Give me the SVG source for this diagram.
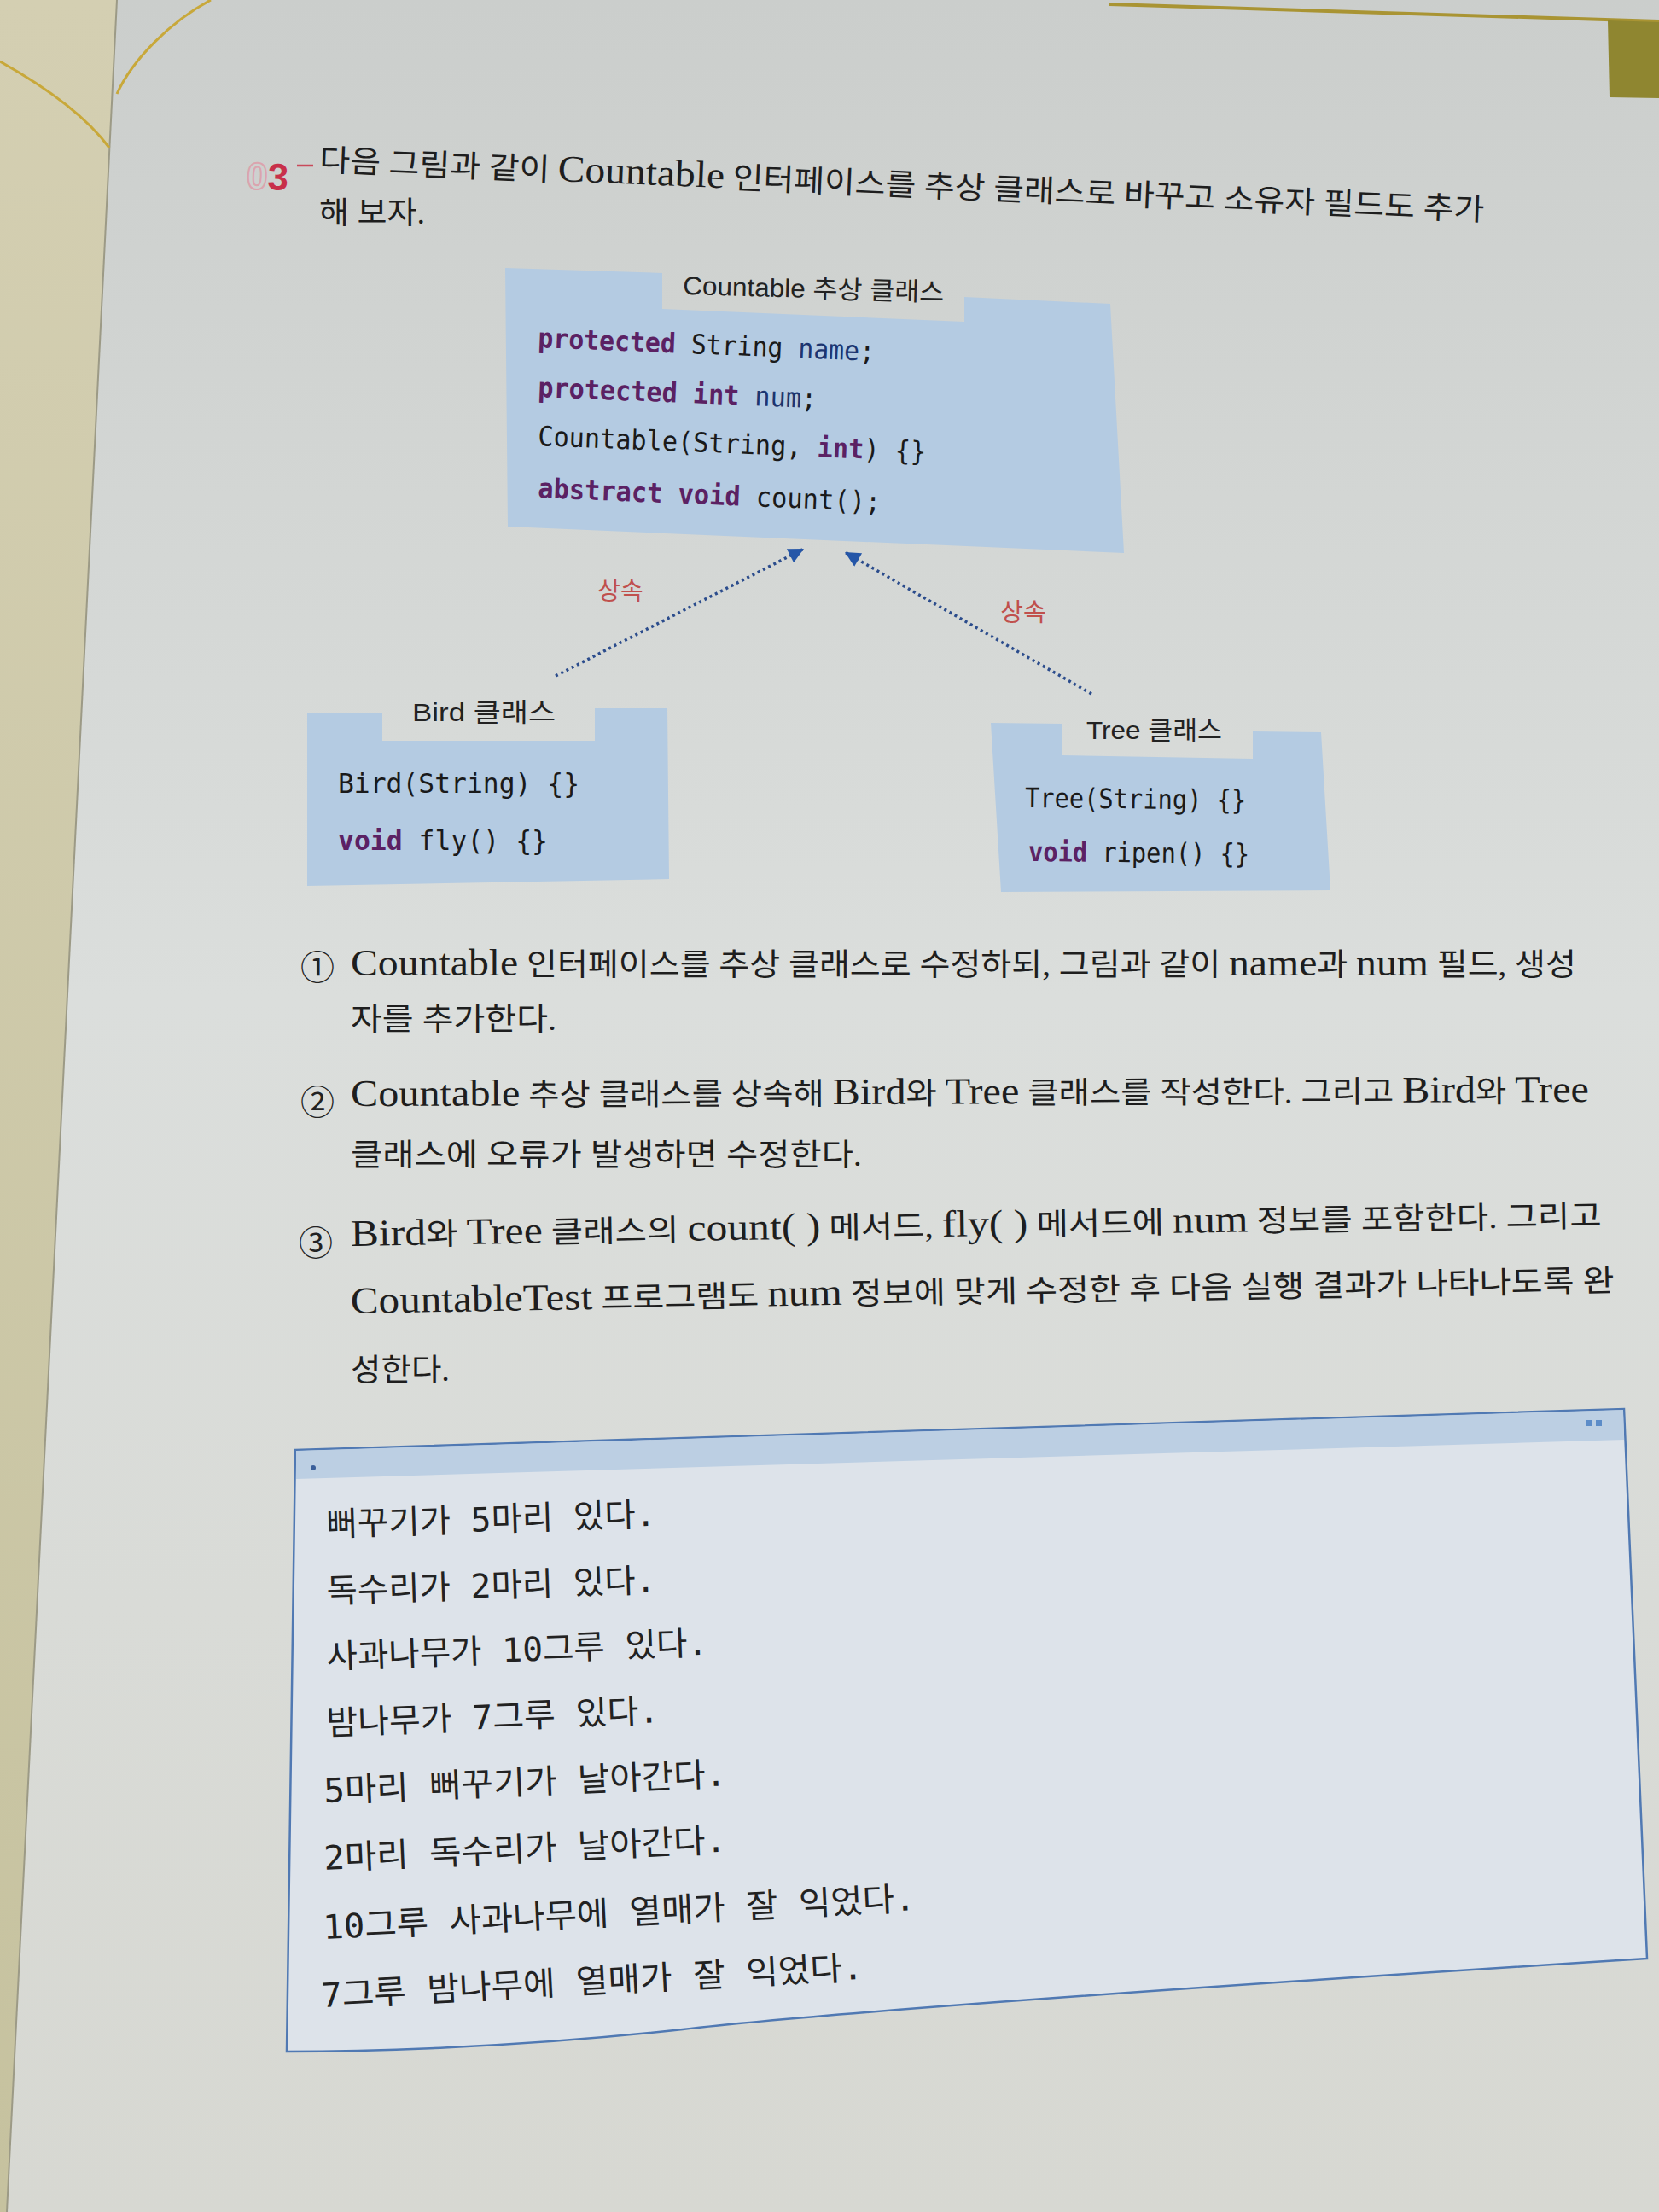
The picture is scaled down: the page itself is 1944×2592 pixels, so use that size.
<svg xmlns="http://www.w3.org/2000/svg" width="1944" height="2592" viewBox="0 0 1944 2592">
<defs>
<linearGradient id="pageG" x1="0" y1="0" x2="0" y2="1">
<stop offset="0" stop-color="#cbcecc"/>
<stop offset="0.45" stop-color="#dbdedc"/>
<stop offset="1" stop-color="#d7d8d2"/>
</linearGradient>
<linearGradient id="stripG" x1="0" y1="0" x2="0" y2="1">
<stop offset="0" stop-color="#d4cfb2"/>
<stop offset="1" stop-color="#c6c29f"/>
</linearGradient>
<marker id="arr" viewBox="0 0 10 10" refX="10" refY="5" markerWidth="22" markerHeight="18" markerUnits="userSpaceOnUse" orient="auto">
<path d="M0,0 L10,5 L0,10 z" fill="#2456a8"/>
</marker>
<style>
.box{fill:#b4cbe2}
.code{font-family:"DejaVu Sans Mono","Noto Sans CJK KR",monospace;font-size:32px;fill:#1a1a1a}
.kw{fill:#5b2163;font-weight:bold}
.id{fill:#1c3570}
.cap{font-family:"Liberation Sans","Noto Sans CJK KR",sans-serif;font-size:30px;fill:#222}
.inh{font-family:"Noto Sans CJK KR",sans-serif;font-size:29px;fill:#c0504d}
.conn{fill:none;stroke:#2b4c8c;stroke-width:3.5;stroke-dasharray:3 4}
.body{font-family:"Liberation Serif","Noto Sans CJK KR",serif;font-size:36px;fill:#1e1e1e}
.lat{font-size:44px}
.num{font-family:"Noto Sans CJK KR",sans-serif;font-size:40px;fill:#222}
.out{font-family:"DejaVu Sans Mono","Noto Sans CJK KR",monospace;font-size:39px;fill:#222}
</style>
</defs>

<g id="background">
<rect x="0" y="0" width="1944" height="2592" fill="url(#pageG)"/>
<polygon points="0,0 137,0 8,2592 0,2592" fill="url(#stripG)"/>
<line x1="137" y1="0" x2="8" y2="2592" stroke="#9c9a86" stroke-width="2"/>
<path d="M0,72 C50,100 100,135 128,173" fill="none" stroke="#c8a83a" stroke-width="3"/>
<path d="M247,0 C200,25 155,70 137,110" fill="none" stroke="#c8a83a" stroke-width="3"/>
<path d="M1300,5 L1944,25" fill="none" stroke="#a99433" stroke-width="4"/>
<polygon points="1884,24 1944,26 1944,115 1886,114" fill="#8f8630"/>
</g>

<g id="title">
<text x="313" y="222" font-family="Liberation Sans,sans-serif" font-size="44" font-weight="bold" fill="none" stroke="#dba4ae" stroke-width="2" text-anchor="end" transform="rotate(2.4 313 222)">0</text>
<text x="313" y="222" font-family="Liberation Sans,sans-serif" font-size="44" font-weight="bold" fill="#c8304a" transform="rotate(2.4 313 222)">3</text>
<line x1="348" y1="194" x2="367" y2="194" stroke="#c84a5a" stroke-width="2.5"/>
<text class="body" x="374" y="200" textLength="1366" lengthAdjust="spacingAndGlyphs" transform="rotate(2.45 374 200)">다음 그림과 같이 <tspan class="lat">Countable</tspan> 인터페이스를 추상 클래스로 바꾸고 소유자 필드도 추가</text>
<text class="body" x="374" y="262" textLength="124" lengthAdjust="spacingAndGlyphs">해 보자.</text>
</g>

<g id="countable">
<polygon class="box" points="592,314 776,320 776,362 1130,377 1130,348 1301,356 1317,648 595,617"/>
<text class="cap" x="800" y="345" textLength="306" lengthAdjust="spacingAndGlyphs" transform="rotate(1.5 800 345)">Countable 추상 클래스</text>
<text class="code" x="630" y="407" textLength="395" lengthAdjust="spacingAndGlyphs" transform="rotate(2.3 630 407)"><tspan class="kw">protected</tspan> String <tspan class="id">name</tspan>;</text>
<text class="code" x="630" y="465" textLength="327" lengthAdjust="spacingAndGlyphs" transform="rotate(2.3 630 465)"><tspan class="kw">protected</tspan> <tspan class="kw">int</tspan> <tspan class="id">num</tspan>;</text>
<text class="code" x="630" y="522" textLength="455" lengthAdjust="spacingAndGlyphs" transform="rotate(2.3 630 522)">Countable(String, <tspan class="kw">int</tspan>) {}</text>
<text class="code" x="630" y="583" textLength="402" lengthAdjust="spacingAndGlyphs" transform="rotate(2.3 630 583)"><tspan class="kw">abstract</tspan> <tspan class="kw">void</tspan> count();</text>
</g>

<g id="bird">
<polygon class="box" points="360,835 448,835 448,868 697,868 697,830 782,830 784,1030 360,1038"/>
<text class="cap" x="483" y="845" font-size="31" textLength="168" lengthAdjust="spacingAndGlyphs">Bird 클래스</text>
<text class="code" x="396" y="929" font-size="33" textLength="283" lengthAdjust="spacingAndGlyphs">Bird(String) {}</text>
<text class="code" x="396" y="996" font-size="33" textLength="246" lengthAdjust="spacingAndGlyphs"><tspan class="kw">void</tspan> fly() {}</text>
</g>

<g id="tree">
<polygon class="box" points="1161,847 1245,848 1245,885 1468,889 1468,857 1548,858 1559,1043 1173,1045"/>
<text class="cap" x="1273" y="866" font-size="29" textLength="159" lengthAdjust="spacingAndGlyphs">Tree 클래스</text>
<text class="code" x="1201" y="946" font-size="31" textLength="259" lengthAdjust="spacingAndGlyphs" transform="rotate(0.6 1201 946)">Tree(String) {}</text>
<text class="code" x="1205" y="1009" font-size="31" textLength="259" lengthAdjust="spacingAndGlyphs" transform="rotate(0.6 1205 1009)"><tspan class="kw">void</tspan> ripen() {}</text>
</g>

<g id="connectors">
<path class="conn" d="M651,792 L942,643" marker-end="url(#arr)"/>
<path class="conn" d="M1279,813 L990,647" marker-end="url(#arr)"/>
<text class="inh" x="727" y="703" text-anchor="middle">상속</text>
<text class="inh" x="1199" y="728" text-anchor="middle">상속</text>
</g>

<g id="items">
<text class="num" x="372" y="1148" text-anchor="middle">①</text>
<text class="body" x="411" y="1143" textLength="1436" lengthAdjust="spacingAndGlyphs"><tspan class="lat">Countable</tspan> 인터페이스를 추상 클래스로 수정하되, 그림과 같이 <tspan class="lat">name</tspan>과 <tspan class="lat">num</tspan> 필드, 생성</text>
<text class="body" x="411" y="1207" textLength="241" lengthAdjust="spacingAndGlyphs">자를 추가한다.</text>
<text class="num" x="372" y="1306" text-anchor="middle">②</text>
<text class="body" x="411" y="1296" textLength="1451" lengthAdjust="spacingAndGlyphs" transform="rotate(-0.2 411 1296)"><tspan class="lat">Countable</tspan> 추상 클래스를 상속해 <tspan class="lat">Bird</tspan>와 <tspan class="lat">Tree</tspan> 클래스를 작성한다. 그리고 <tspan class="lat">Bird</tspan>와 <tspan class="lat">Tree</tspan></text>
<text class="body" x="411" y="1366" textLength="599" lengthAdjust="spacingAndGlyphs">클래스에 오류가 발생하면 수정한다.</text>
<text class="num" x="370" y="1471" text-anchor="middle">③</text>
<text class="body" x="411" y="1460" textLength="1466" lengthAdjust="spacingAndGlyphs" transform="rotate(-0.9 411 1460)"><tspan class="lat">Bird</tspan>와 <tspan class="lat">Tree</tspan> 클래스의 <tspan class="lat">count( )</tspan> 메서드, <tspan class="lat">fly( )</tspan> 메서드에 <tspan class="lat">num</tspan> 정보를 포함한다. 그리고</text>
<text class="body" x="411" y="1539" textLength="1481" lengthAdjust="spacingAndGlyphs" transform="rotate(-1.0 411 1539)"><tspan class="lat">CountableTest</tspan> 프로그램도 <tspan class="lat">num</tspan> 정보에 맞게 수정한 후 다음 실행 결과가 나타나도록 완</text>
<text class="body" x="411" y="1618" textLength="116" lengthAdjust="spacingAndGlyphs">성한다.</text>
</g>

<g id="output">
<path d="M346,1699 L1903,1651 L1930,2295 C1500,2322 1000,2355 800,2378 C600,2400 420,2404 336,2404 Z" fill="#dde3ea" stroke="#5079b3" stroke-width="2.5"/>
<polygon points="347,1700 1902,1652 1903,1687 347,1733" fill="#bccfe3"/>
<circle cx="367" cy="1720" r="3" fill="#3a5f9a"/>
<rect x="1858" y="1664" width="7" height="7" fill="#5c8cc8"/>
<rect x="1870" y="1664" width="7" height="7" fill="#5c8cc8"/>
<text class="out" x="383" y="1800" textLength="386" lengthAdjust="spacingAndGlyphs" transform="rotate(-1.8 383 1800)">뻐꾸기가 5마리 있다.</text>
<text class="out" x="383" y="1878" textLength="386" lengthAdjust="spacingAndGlyphs" transform="rotate(-1.9 383 1878)">독수리가 2마리 있다.</text>
<text class="out" x="383" y="1955" textLength="447" lengthAdjust="spacingAndGlyphs" transform="rotate(-2.1 383 1955)">사과나무가 10그루 있다.</text>
<text class="out" x="383" y="2033" textLength="390" lengthAdjust="spacingAndGlyphs" transform="rotate(-2.2 383 2033)">밤나무가 7그루 있다.</text>
<text class="out" x="380" y="2112" textLength="472" lengthAdjust="spacingAndGlyphs" transform="rotate(-2.4 380 2112)">5마리 뻐꾸기가 날아간다.</text>
<text class="out" x="380" y="2191" textLength="472" lengthAdjust="spacingAndGlyphs" transform="rotate(-2.6 380 2191)">2마리 독수리가 날아간다.</text>
<text class="out" x="379" y="2272" textLength="695" lengthAdjust="spacingAndGlyphs" transform="rotate(-2.8 379 2272)">10그루 사과나무에 열매가 잘 익었다.</text>
<text class="out" x="377" y="2352" textLength="636" lengthAdjust="spacingAndGlyphs" transform="rotate(-3.0 377 2352)">7그루 밤나무에 열매가 잘 익었다.</text>
</g>
</svg>
